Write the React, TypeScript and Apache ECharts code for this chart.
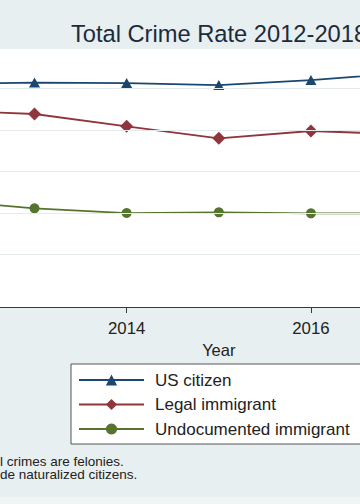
import React, { useEffect, useRef } from "react";
import * as echarts from "echarts";

const years = [2012, 2013, 2014, 2015, 2016, 2017];
const usCitizen = [2554, 2572, 2566, 2542, 2602, 2687];
const legalImmigrant = [2235, 2193, 2045, 1900, 1988, 1949];
const undocumentedImmigrant = [1153, 1057, 1000, 1008, 996, 996];
const gridValues = [500, 1000, 1500, 2000, 2500];
const xTickValues = [2014, 2016];
const seriesNames = ["US citizen", "Legal immigrant", "Undocumented immigrant"];
const titleText = "Total Crime Rate 2012-2018";
const xAxisName = "Year";
const noteLines = ["l crimes are felonies.", "de naturalized citizens."];

const FONT = "'Liberation Sans', Arial, sans-serif";

export default function App() {
  const ref = useRef<HTMLDivElement>(null);
  useEffect(() => {
    if (!ref.current) return;
    const chart = echarts.init(ref.current, null, { renderer: "svg" });
    const pair = (vals: number[]) => years.map((y, i) => [y, vals[i]]);
    const colors = ["#1a476f", "#90353b", "#55752f"];
    const symbols = ["triangle", "diamond", "circle"];
    const sizes: any[] = [[11, 10], 13, 10];
    const datas = [usCitizen, legalImmigrant, undocumentedImmigrant];
    chart.setOption({
      animation: false,
      backgroundColor: "#e8eff1",
      textStyle: { fontFamily: FONT },
      grid: {
        left: -57.65,
        width: 552.9,
        top: 49,
        height: 258,
        outerBoundsMode: "none",
        containLabel: false,
        show: true,
        backgroundColor: "#ffffff",
        borderWidth: 0,
      },
      xAxis: {
        type: "value",
        min: 2012,
        max: 2018,
        name: xAxisName,
        nameLocation: "middle",
        nameGap: 29,
        nameTextStyle: { fontSize: 16.5, color: "#222", fontFamily: FONT },
        axisLine: { show: true, onZero: false, lineStyle: { color: "#3a3a3a", width: 1.2 } },
        axisTick: { show: true, customValues: xTickValues, length: 6, lineStyle: { color: "#3a3a3a", width: 1 } },
        axisLabel: {
          customValues: xTickValues,
          formatter: (v: number) => String(v),
          fontSize: 16.8,
          color: "#222",
          margin: 13,
          fontFamily: FONT,
        },
        splitLine: { show: false },
      },
      yAxis: {
        type: "value",
        min: -132,
        max: 2976,
        axisLine: { show: false },
        axisTick: { show: false },
        axisLabel: { show: false },
        splitLine: { show: false },
      },
      legend: {
        data: seriesNames,
        orient: "vertical",
        left: 71,
        top: 364,
        itemWidth: 65,
        itemHeight: 14,
        itemGap: 7.5,
        padding: [7.5, 30, 6.5, 7],
        backgroundColor: "#ffffff",
        borderColor: "#555",
        borderWidth: 1,
        borderRadius: 0,
        textStyle: { fontSize: 17, color: "#222", padding: [0, 0, 0, 6], fontFamily: FONT },
      },
      graphic: [
        {
          type: "text",
          x: 219,
          y: 33.8,
          style: { text: titleText, fill: "#1c2b3c", font: `23.7px ${FONT}`, align: "center", verticalAlign: "middle" },
        },
        {
          type: "text",
          x: 0,
          y: 467.8,
          style: {
            text: noteLines.join("\n"),
            fill: "#222",
            font: `13.5px ${FONT}`,
            lineHeight: 13,
            align: "left",
            verticalAlign: "middle",
          },
        },
        {
          type: "rect",
          shape: { x: 0, y: 497, width: 360, height: 7 },
          style: { fill: "#f1f4f5" },
        },
      ],
      series: [
        {
          type: "line",
          name: "_grid",
          data: [],
          z: 0,
          silent: true,
          markLine: {
            silent: true,
            symbol: "none",
            label: { show: false },
            lineStyle: { color: "#e6ecee", width: 1, type: "solid" },
            data: gridValues.map((v) => ({ yAxis: v })),
          },
        },
        ...datas.map((d, i) => ({
          type: "line",
          name: seriesNames[i],
          data: pair(d),
          symbol: symbols[i],
          symbolSize: sizes[i],
          showAllSymbol: true,
          color: colors[i],
          itemStyle: { color: colors[i] },
          lineStyle: { color: colors[i], width: 1.8 },
          z: 3,
        })),
      ],
    });
    return () => chart.dispose();
  }, []);
  return (
    <div
      ref={ref}
      style={{ position: "fixed", left: 0, top: 0, width: 360, height: 504 }}
    />
  );
}
